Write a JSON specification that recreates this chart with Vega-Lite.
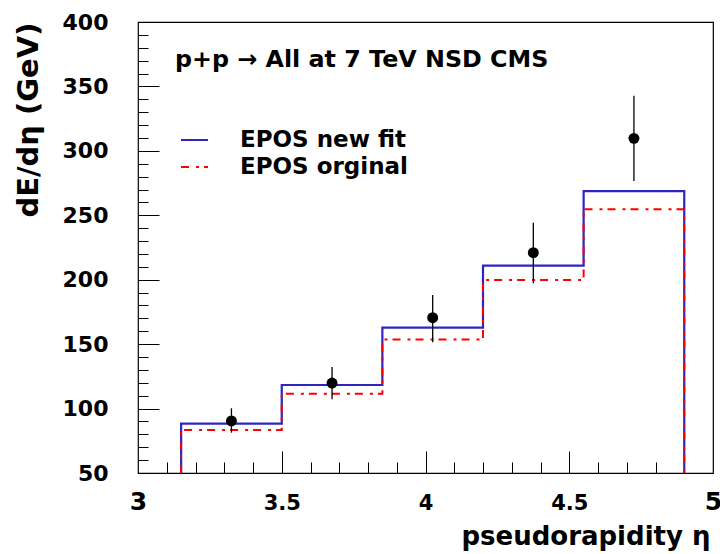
{
  "$schema": "https://vega.github.io/schema/vega-lite/v6.json",
  "width": 575,
  "height": 451,
  "autosize": {"type": "none"},
  "padding": {"left": 138, "top": 22, "right": 7, "bottom": 81},
  "background": "white",
  "config": {
    "view": {"stroke": "black", "strokeWidth": 1.2},
    "font": "DejaVu Sans",
    "axis": {
      "grid": false,
      "domain": false,
      "tickColor": "black",
      "tickWidth": 1,
      "labelColor": "black",
      "titleColor": "black",
      "labelFont": "DejaVu Sans",
      "titleFont": "DejaVu Sans",
      "labelFontWeight": "bold",
      "titleFontWeight": "bold"
    }
  },
  "title": {
    "text": "p+p → All at 7 TeV NSD CMS",
    "anchor": "start",
    "frame": "group",
    "orient": "top",
    "offset": -80,
    "dx": 37,
    "baseline": "alphabetic",
    "font": "DejaVu Sans",
    "fontSize": 23.8,
    "fontWeight": "bold",
    "color": "black"
  },
  "datasets": {
    "hist": [
      {"series": "EPOS new fit", "eta": 3.15, "dEdeta": 50, "i": 0},
      {"series": "EPOS new fit", "eta": 3.15, "dEdeta": 88.3, "i": 1},
      {"series": "EPOS new fit", "eta": 3.5, "dEdeta": 118.3, "i": 2},
      {"series": "EPOS new fit", "eta": 3.85, "dEdeta": 162.8, "i": 3},
      {"series": "EPOS new fit", "eta": 4.2, "dEdeta": 210.9, "i": 4},
      {"series": "EPOS new fit", "eta": 4.55, "dEdeta": 268.8, "i": 5},
      {"series": "EPOS new fit", "eta": 4.9, "dEdeta": 268.8, "i": 6},
      {"series": "EPOS new fit", "eta": 4.9, "dEdeta": 50, "i": 7},
      {"series": "EPOS orginal", "eta": 3.15, "dEdeta": 50, "i": 0},
      {"series": "EPOS orginal", "eta": 3.15, "dEdeta": 83.4, "i": 1},
      {"series": "EPOS orginal", "eta": 3.5, "dEdeta": 111.5, "i": 2},
      {"series": "EPOS orginal", "eta": 3.85, "dEdeta": 153.7, "i": 3},
      {"series": "EPOS orginal", "eta": 4.2, "dEdeta": 199.8, "i": 4},
      {"series": "EPOS orginal", "eta": 4.55, "dEdeta": 254.6, "i": 5},
      {"series": "EPOS orginal", "eta": 4.9, "dEdeta": 254.6, "i": 6},
      {"series": "EPOS orginal", "eta": 4.9, "dEdeta": 50, "i": 7}
    ],
    "cms": [
      {"eta": 3.325, "val": 90.4, "lo": 81.3, "hi": 100.2},
      {"eta": 3.675, "val": 119.8, "lo": 107.2, "hi": 132.3},
      {"eta": 4.025, "val": 170.5, "lo": 151.4, "hi": 188.1},
      {"eta": 4.375, "val": 221.0, "lo": 197.2, "hi": 244.2},
      {"eta": 4.725, "val": 309.7, "lo": 276.6, "hi": 342.8}
    ]
  },
  "resolve": {"axis": {"x": "independent", "y": "independent"}},
  "layer": [
    {
      "data": {"name": "hist"},
      "transform": [{"filter": "datum.series == 'EPOS new fit'"}],
      "mark": {"type": "line", "interpolate": "step-after", "strokeWidth": 2.2},
      "encoding": {
        "x": {
          "field": "eta", "type": "quantitative",
          "scale": {"domain": [3, 5], "nice": false, "zero": false},
          "axis": {
            "orient": "bottom",
            "values": [3, 3.5, 4, 4.5, 5],
            "format": "~g",
            "ticks": false,
            "tickSize": 0,
            "labelPadding": 36,
            "labelBaseline": "alphabetic",
            "labelFontSize": {"condition": {"test": "datum.value == 3 || datum.value == 5", "value": 25}, "value": 21},
            "labelFlush": false,
            "labelOverlap": false,
            "title": "pseudorapidity η",
            "titleFontSize": 26,
            "titleX": 572,
            "titleY": 71,
            "titleAlign": "right",
            "titleBaseline": "alphabetic",
            "titleAnchor": "end"
          }
        },
        "y": {
          "field": "dEdeta", "type": "quantitative",
          "scale": {"domain": [50, 400], "nice": false, "zero": false},
          "axis": {
            "orient": "left",
            "values": [50, 100, 150, 200, 250, 300, 350, 400],
            "ticks": false,
            "tickSize": 0,
            "labelPadding": 30,
            "labelFontSize": 22,
            "labelBaseline": "middle",
            "labelFlush": false,
            "labelOverlap": false,
            "title": "dE/dη (GeV)",
            "titleFontSize": 29,
            "titleAngle": 270,
            "titleX": -101,
            "titleY": 0,
            "titleAlign": "right",
            "titleBaseline": "alphabetic"
          }
        },
        "order": {"field": "i", "type": "quantitative"},
        "color": {
          "field": "series", "type": "nominal",
          "scale": {"domain": ["EPOS new fit", "EPOS orginal"], "range": ["#2f24c0", "#ff0000"]},
          "legend": {
            "title": null, "orient": "none", "legendX": 42, "legendY": 103.5,
            "symbolType": "stroke", "symbolSize": 729, "symbolStrokeWidth": 2,
            "labelFont": "DejaVu Sans", "labelFontSize": 23, "labelFontWeight": "bold",
            "labelColor": "black", "labelOffset": 31, "rowPadding": 0, "padding": 0,
            "labelBaseline": "middle", "labelLimit": 400
          }
        },
        "strokeDash": {
          "field": "series", "type": "nominal",
          "scale": {"domain": ["EPOS new fit", "EPOS orginal"], "range": [[1, 0], [8, 7, 3, 5]]},
          "legend": {
            "title": null, "orient": "none", "legendX": 42, "legendY": 103.5,
            "symbolType": "stroke", "symbolSize": 729, "symbolStrokeWidth": 2,
            "labelFont": "DejaVu Sans", "labelFontSize": 23, "labelFontWeight": "bold",
            "labelColor": "black", "labelOffset": 31, "rowPadding": 0, "padding": 0,
            "labelBaseline": "middle", "labelLimit": 400
          }
        }
      }
    },
    {
      "data": {"name": "hist"},
      "transform": [{"filter": "datum.series == 'EPOS orginal'"}],
      "mark": {"type": "line", "interpolate": "step-after", "strokeWidth": 2},
      "encoding": {
        "x": {
          "field": "eta", "type": "quantitative",
          "scale": {"domain": [3, 5], "nice": false, "zero": false},
          "axis": {"orient": "bottom", "values": [3.5, 4, 4.5], "labels": false, "tickSize": -22, "title": null}
        },
        "y": {
          "field": "dEdeta", "type": "quantitative",
          "scale": {"domain": [50, 400], "nice": false, "zero": false},
          "axis": {"orient": "left", "values": [100, 150, 200, 250, 300, 350], "labels": false, "tickSize": -21, "title": null}
        },
        "order": {"field": "i", "type": "quantitative"},
        "color": {"field": "series", "type": "nominal"},
        "strokeDash": {"field": "series", "type": "nominal"}
      }
    },
    {
      "data": {"name": "cms"},
      "mark": {"type": "rule", "color": "black", "strokeWidth": 1.3},
      "encoding": {
        "x": {
          "field": "eta", "type": "quantitative",
          "scale": {"domain": [3, 5], "nice": false, "zero": false},
          "axis": {"orient": "bottom", "values": [3.1, 3.2, 3.3, 3.4, 3.6, 3.7, 3.8, 3.9, 4.1, 4.2, 4.3, 4.4, 4.6, 4.7, 4.8, 4.9], "labels": false, "tickSize": -11, "title": null}
        },
        "y": {
          "field": "lo", "type": "quantitative",
          "scale": {"domain": [50, 400], "nice": false, "zero": false},
          "axis": {"orient": "left", "values": [60, 70, 80, 90, 110, 120, 130, 140, 160, 170, 180, 190, 210, 220, 230, 240, 260, 270, 280, 290, 310, 320, 330, 340, 360, 370, 380, 390], "labels": false, "tickSize": -10, "title": null}
        },
        "y2": {"field": "hi"}
      }
    },
    {
      "data": {"name": "cms"},
      "mark": {"type": "circle", "color": "black", "opacity": 1, "size": 120},
      "encoding": {
        "x": {"field": "eta", "type": "quantitative", "scale": {"domain": [3, 5], "nice": false, "zero": false}, "axis": null},
        "y": {"field": "val", "type": "quantitative", "scale": {"domain": [50, 400], "nice": false, "zero": false}, "axis": null}
      }
    }
  ]
}
